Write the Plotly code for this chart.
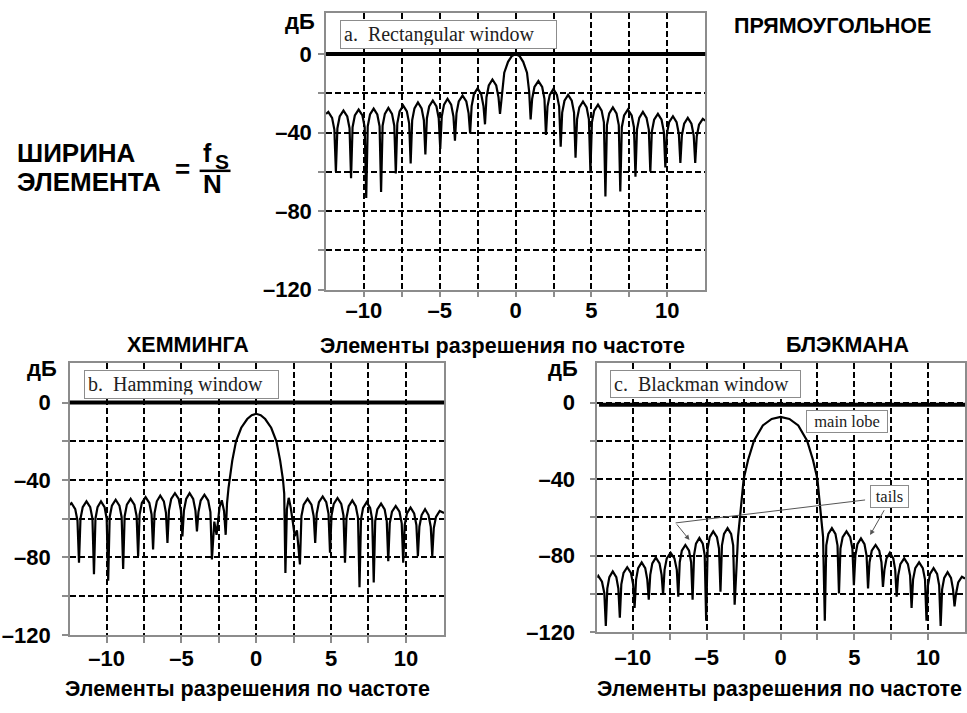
import plotly.graph_objects as go

# ---------------- data ----------------
# frequency (bins) and level (dB) of each window's spectrum
rect_x = [
    -12.5, -12.35, -12.1, -11.95,
    -11.85, -11.75, -11.6, -11.35, -11.1, -10.95,
    -10.85, -10.75, -10.6, -10.35, -10.1, -9.95,
    -9.85, -9.75, -9.6, -9.36, -9.12, -8.97,
    -8.87, -8.77, -8.62, -8.39, -8.15, -8.0,
    -7.9, -7.8, -7.65, -7.41, -7.17, -7.02,
    -6.92, -6.82, -6.67, -6.44, -6.2, -6.05,
    -5.95, -5.85, -5.7, -5.46, -5.22, -5.07,
    -4.97, -4.87, -4.72, -4.49, -4.25, -4.1,
    -4.0, -3.9, -3.75, -3.5, -3.25, -3.1,
    -3.0, -2.9, -2.75, -2.51, -2.27, -2.12,
    -2.02, -1.92, -1.77, -1.53, -1.28, -1.13,
    -1.03, -0.9, -0.75, -0.5, -0.25, 0.0, 0.25, 0.5, 0.75, 0.89,
    0.99, 1.09, 1.24, 1.5, 1.75, 1.9,
    2.0, 2.1, 2.25, 2.49, 2.72, 2.87,
    2.97, 3.07, 3.22, 3.46, 3.7, 3.85,
    3.95, 4.05, 4.2, 4.44, 4.68, 4.83,
    4.93, 5.03, 5.18, 5.43, 5.67, 5.82,
    5.92, 6.02, 6.17, 6.41, 6.65, 6.8,
    6.9, 7.0, 7.15, 7.4, 7.65, 7.8,
    7.9, 8.0, 8.15, 8.39, 8.63, 8.78,
    8.88, 8.98, 9.13, 9.38, 9.62, 9.77,
    9.87, 9.97, 10.12, 10.37, 10.61, 10.76,
    10.86, 10.96, 11.11, 11.35, 11.59, 11.74,
    11.84, 11.94, 12.09, 12.34, 12.5,
]
rect_db = [
    -30.5, -29.5, -32.5, -38.5,
    -60.0, -37.8, -31.8, -28.8, -31.8, -37.8,
    -63.3, -37.3, -31.3, -28.3, -31.3, -37.3,
    -73.3, -36.8, -30.8, -27.8, -30.8, -36.8,
    -70.3, -36.5, -30.5, -27.5, -30.5, -36.5,
    -60.8, -35.3, -29.3, -26.3, -29.3, -35.3,
    -55.8, -33.7, -27.7, -24.7, -27.7, -33.7,
    -51.2, -32.7, -26.7, -23.7, -26.7, -32.7,
    -48.3, -31.8, -25.8, -22.8, -25.8, -31.8,
    -44.2, -30.2, -24.2, -21.2, -24.2, -30.2,
    -40.5, -26.5, -20.5, -17.5, -20.5, -26.5,
    -35.8, -22.0, -16.0, -13.0, -16.0, -22.0,
    -30.5, -19.0, -9.5, -4.0, -1.0, 0.0, -1.0, -4.0, -9.5, -19.0,
    -33.3, -22.8, -16.8, -13.8, -16.8, -22.8,
    -41.2, -26.8, -20.8, -17.8, -20.8, -26.8,
    -47.2, -29.8, -23.8, -20.8, -23.8, -29.8,
    -52.8, -33.2, -27.2, -24.2, -27.2, -33.2,
    -60.0, -34.8, -28.8, -25.8, -28.8, -34.8,
    -72.5, -36.2, -30.2, -27.2, -30.2, -36.2,
    -70.0, -37.3, -31.3, -28.3, -31.3, -37.3,
    -62.5, -38.5, -32.5, -29.5, -32.5, -38.5,
    -60.0, -39.5, -33.5, -30.5, -33.5, -39.5,
    -57.8, -40.7, -34.7, -31.7, -34.7, -40.7,
    -55.5, -41.5, -35.5, -32.5, -35.5, -41.5,
    -55.5, -42.0, -36.0, -33.0, -34.0,
]

hamm_x = [
    -12.5, -12.34, -12.09, -11.94,
    -11.84, -11.74, -11.59, -11.34, -11.09, -10.94,
    -10.84, -10.74, -10.6, -10.37, -10.13, -9.99,
    -9.89, -9.79, -9.64, -9.39, -9.14, -8.99,
    -8.89, -8.79, -8.64, -8.39, -8.14, -7.99,
    -7.89, -7.79, -7.64, -7.39, -7.14, -6.99,
    -6.89, -6.79, -6.64, -6.41, -6.17, -6.03,
    -5.93, -5.83, -5.68, -5.43, -5.18, -5.03,
    -4.93, -4.83, -4.68, -4.45, -4.21, -4.06,
    -3.96, -3.86, -3.71, -3.46, -3.21, -3.06,
    -2.96, -2.8, -2.65, -2.45, -2.3, -2.15,
    -2.04, -1.95, -1.85, -1.78, -1.6, -1.35, -1.0, -0.6, -0.3, 0.0,
    0.3, 0.6, 1.0, 1.35, 1.6, 1.79, 1.87,
    1.95, 2.05, 2.17, 2.3, 2.45, 2.57, 2.72,
    2.92, 3.02, 3.17, 3.43, 3.69, 3.84,
    3.94, 4.04, 4.19, 4.44, 4.68, 4.83,
    4.93, 5.03, 5.18, 5.43, 5.68, 5.83,
    5.93, 6.03, 6.18, 6.42, 6.65, 6.8,
    6.9, 7.0, 7.14, 7.38, 7.61, 7.75,
    7.85, 7.95, 8.09, 8.34, 8.58, 8.72,
    8.82, 8.92, 9.07, 9.32, 9.57, 9.72,
    9.82, 9.92, 10.07, 10.31, 10.55, 10.7,
    10.8, 10.9, 11.05, 11.28, 11.51, 11.66,
    11.76, 11.86, 12.01, 12.26, 12.55,
]
hamm_db = [
    -53.0, -52.0, -55.0, -61.0,
    -82.7, -60.0, -54.0, -51.0, -54.0, -60.0,
    -88.6, -60.0, -54.0, -51.0, -54.0, -60.0,
    -92.0, -59.2, -53.2, -50.2, -53.2, -59.2,
    -86.0, -58.7, -52.7, -49.7, -52.7, -58.7,
    -79.3, -57.8, -51.8, -48.8, -51.8, -57.8,
    -75.9, -57.0, -51.0, -48.0, -51.0, -57.0,
    -72.5, -55.8, -49.8, -46.8, -49.8, -55.8,
    -69.2, -55.8, -49.8, -46.8, -49.8, -55.8,
    -66.6, -56.6, -50.6, -47.6, -50.6, -56.6,
    -81.0, -61.5, -68.3, -54.0, -50.5, -56.0,
    -68.3, -52.0, -44.0, -40.0, -30.0, -20.0, -13.0, -8.5, -6.5, -5.8,
    -6.5, -8.5, -13.0, -20.0, -30.0, -40.0, -47.0,
    -88.0, -55.0, -49.2, -54.0, -62.0, -69.0, -66.0,
    -83.6, -58.7, -52.7, -49.7, -52.7, -58.7,
    -72.5, -57.5, -51.5, -48.5, -51.5, -57.5,
    -77.6, -58.3, -52.3, -49.3, -52.3, -58.3,
    -82.7, -59.5, -53.5, -50.5, -53.5, -59.5,
    -95.4, -60.4, -54.4, -51.4, -54.4, -60.4,
    -92.9, -61.2, -55.2, -52.2, -55.2, -61.2,
    -81.9, -62.4, -56.4, -53.4, -56.4, -62.4,
    -82.7, -63.2, -57.2, -54.2, -57.2, -63.2,
    -79.3, -64.1, -58.1, -55.1, -58.1, -64.1,
    -79.3, -65.0, -59.0, -56.0, -57.0,
]

black_x = [
    -12.42, -12.35, -12.1, -11.94,
    -11.84, -11.74, -11.6, -11.37, -11.13, -10.99,
    -10.89, -10.79, -10.64, -10.39, -10.14, -9.99,
    -9.89, -9.79, -9.65, -9.41, -9.17, -9.03,
    -8.93, -8.83, -8.69, -8.45, -8.2, -8.06,
    -7.96, -7.86, -7.71, -7.45, -7.19, -7.03,
    -6.93, -6.83, -6.69, -6.45, -6.2, -6.06,
    -5.96, -5.86, -5.73, -5.5, -5.27, -5.14,
    -5.04, -4.94, -4.8, -4.56, -4.31, -4.17,
    -4.07, -3.97, -3.83, -3.59, -3.35, -3.21,
    -3.11, -3.0, -2.88, -2.75, -2.5, -2.2, -1.8, -1.2, -0.6, 0.0,
    0.6, 1.2, 1.8, 2.2, 2.5, 2.75, 2.88,
    3.0, 3.1, 3.24, 3.48, 3.72, 3.86,
    3.96, 4.06, 4.21, 4.47, 4.72, 4.87,
    4.97, 5.07, 5.21, 5.45, 5.69, 5.83,
    5.93, 6.03, 6.18, 6.44, 6.69, 6.84,
    6.94, 7.04, 7.18, 7.41, 7.64, 7.77,
    7.87, 7.97, 8.12, 8.38, 8.63, 8.78,
    8.88, 8.98, 9.13, 9.39, 9.64, 9.79,
    9.89, 9.99, 10.13, 10.37, 10.61, 10.75,
    10.85, 10.95, 11.09, 11.32, 11.55, 11.69,
    11.79, 11.89, 12.04, 12.29, 12.5,
]
black_db = [
    -91.5, -90.6, -93.6, -99.6,
    -116.7, -97.2, -91.2, -88.2, -91.2, -97.2,
    -112.4, -95.0, -89.0, -86.0, -89.0, -95.0,
    -107.3, -92.5, -86.5, -83.5, -86.5, -92.5,
    -103.0, -90.0, -84.0, -81.0, -84.0, -90.0,
    -100.5, -87.4, -81.4, -78.4, -81.4, -87.4,
    -101.4, -83.4, -77.4, -74.4, -77.4, -83.4,
    -103.0, -79.7, -73.7, -70.7, -73.7, -79.7,
    -114.0, -76.3, -70.3, -67.3, -70.3, -76.3,
    -98.8, -74.6, -68.6, -65.6, -68.6, -74.6,
    -105.6, -85.0, -70.0, -60.0, -40.0, -30.0, -20.0, -12.0, -8.6, -7.5,
    -8.6, -12.0, -20.0, -30.0, -40.0, -60.0, -70.0,
    -114.0, -74.6, -68.6, -65.6, -68.6, -74.6,
    -99.7, -76.3, -70.3, -67.3, -70.3, -76.3,
    -95.4, -80.0, -74.0, -71.0, -74.0, -80.0,
    -97.1, -83.4, -77.4, -74.4, -77.4, -83.4,
    -96.3, -87.4, -81.4, -78.4, -81.4, -87.4,
    -101.4, -90.4, -84.4, -81.4, -84.4, -90.4,
    -107.3, -92.5, -86.5, -83.5, -86.5, -92.5,
    -114.0, -95.5, -89.5, -86.5, -89.5, -95.5,
    -116.7, -97.6, -91.6, -88.6, -91.6, -97.6,
    -106.5, -100.0, -94.0, -91.0, -92.0,
]

x_tick_vals = [-10, -5, 0, 5, 10]
x_tick_text = ["–10", "–5", "0", "5", "10"]
x_minor_vals = [-7.5, -2.5, 2.5, 7.5]
y_tick_vals = [0, -40, -80, -120]
y_tick_text = ["0", "–40", "–80", "–120"]
y_minor_vals = [-20, -60, -100]

panel_labels = ["a.\u00a0 Rectangular window", "b.\u00a0 Hamming window", "c.\u00a0 Blackman window"]
panel_names = ["ПРЯМОУГОЛЬНОЕ", "ХЕММИНГА", "БЛЭКМАНА"]
x_title = "Элементы разрешения по частоте"
y_unit = "дБ"

# ---------------- styling ----------------
W, H = 967, 713
SANS = "Liberation Sans, Arial, sans-serif"
SERIF = "Liberation Serif, Times New Roman, serif"
TICKFONT = dict(family=SANS, size=22, color="black", weight="bold")
AXC = "#8c8c8c"


def px(x):
    return x / W


def py(y):
    return 1 - y / H


GRID = dict(showgrid=True, gridcolor="black", gridwidth=1.7, griddash="6px,3px")
LINE = dict(showline=True, linecolor=AXC, linewidth=1.5, mirror=True, ticks="outside",
            ticklen=6, tickwidth=1.5, tickcolor=AXC, zeroline=False, fixedrange=True)


def make_x(domain, rng, anchor, standoff):
    return dict(domain=domain, range=rng, anchor=anchor, tickmode="array",
                tickvals=x_tick_vals, ticktext=x_tick_text, tickfont=TICKFONT,
                ticklabelstandoff=standoff,
                minor=dict(tickmode="array", tickvals=x_minor_vals, ticks="outside",
                           ticklen=6, tickwidth=1.5, tickcolor=AXC, **GRID),
                **GRID, **LINE)


def make_y(domain, rng, anchor, standoff):
    return dict(domain=domain, range=rng, anchor=anchor, tickmode="array",
                tickvals=y_tick_vals, ticktext=y_tick_text, tickfont=TICKFONT,
                ticklabelstandoff=standoff,
                minor=dict(tickmode="array", tickvals=y_minor_vals, ticks="outside",
                           ticklen=6, tickwidth=1.5, tickcolor=AXC, **GRID),
                **GRID, **LINE)


fig = go.Figure()
for xs, ys, xa, ya in [(rect_x, rect_db, "x", "y"),
                       (hamm_x, hamm_db, "x2", "y2"),
                       (black_x, black_db, "x3", "y3")]:
    fig.add_trace(go.Scatter(x=xs, y=ys, xaxis=xa, yaxis=ya, mode="lines",
                             line=dict(color="black", width=2.2), hoverinfo="skip"))

fig.update_layout(
    width=W, height=H, margin=dict(l=0, r=0, t=0, b=0),
    paper_bgcolor="white", plot_bgcolor="white", showlegend=False,
    xaxis=make_x([px(326.7), px(706.7)], [-12.5, 12.5], "y", -6),
    yaxis=make_y([py(295), py(13.3)], [-120, 20.85], "x", 2),
    xaxis2=make_x([px(70), px(445)], [-12.45, 12.55], "y2", -3),
    yaxis2=make_y([py(646.7), py(370)], [-120, 20.3], "x2", 7),
    xaxis3=make_x([px(598.5), 1.0], [-12.42, 12.5], "y3", -1),
    yaxis3=make_y([py(644), py(370)], [-120, 20.5], "x3", 10),
)

shapes = [
    dict(type="line", xref="x domain", yref="y", x0=0, x1=1, y0=0, y1=0,
         line=dict(color="black", width=4)),
    dict(type="line", xref="x2 domain", yref="y2", x0=0, x1=1, y0=0, y1=0,
         line=dict(color="black", width=4)),
    dict(type="line", xref="x3", yref="y3", x0=-12.3, x1=12.5, y0=-1.2, y1=-1.2,
         line=dict(color="black", width=4)),
    # tails pointer line
    dict(type="line", xref="x3", yref="y3", x0=5.73, y0=-50.9, x1=-7.11, y1=-62.9,
         line=dict(color="#555555", width=1)),
    # fraction bar
    dict(type="line", xref="paper", yref="paper", x0=px(200), x1=px(231), y0=py(174), y1=py(174),
         line=dict(color="black", width=2.5)),
]
fig.update_layout(shapes=shapes)

ann = []


def text(t, x, y, size=21.5, xanchor="center", yanchor="middle", family=SANS, weight="bold"):
    ann.append(dict(text=t, x=px(x), y=py(y), xref="paper", yref="paper", showarrow=False,
                    xanchor=xanchor, yanchor=yanchor,
                    font=dict(family=family, size=size, color="black", weight=weight)))


text(panel_names[0], 834, 26)
text(panel_names[1], 188, 351)
text(panel_names[2], 849, 351)
text(x_title, 504, 352)
text(x_title, 248, 702)
text(x_title, 781, 702)
text(y_unit, 318, 22, size=22, xanchor="right")
text(y_unit, 59, 375, size=22, xanchor="right")
text(y_unit, 581, 375, size=22, xanchor="right")
# formula
text("ШИРИНА", 15, 156, size=26, xanchor="left")
text("ЭЛЕМЕНТА", 15, 185, size=26, xanchor="left")
text("=", 183, 172, size=26)
text("f", 208, 156, size=25)
text("S", 222, 165, size=21)
text("N", 213, 187, size=26)


def boxed(t, x0, y0, w, h, size):
    ann.append(dict(text=t, x=px(x0), y=py(y0), xref="paper", yref="paper", showarrow=False,
                    xanchor="left", yanchor="top", align="left", valign="middle",
                    width=w - 8, height=h - 8, borderpad=3, borderwidth=1,
                    bordercolor="#8c8c8c", bgcolor="white",
                    font=dict(family=SERIF, size=size, color="#222222")))


boxed(panel_labels[0], 340.7, 20.7, 217, 29, 20)
boxed(panel_labels[1], 84, 376.7, 195, 28.5, 20)
boxed(panel_labels[2], 611.7, 376.7, 191, 28, 20)


def small_box(t, xc, yc, size, w):
    ann.append(dict(text=t, x=px(xc), y=py(yc), xref="paper", yref="paper", showarrow=False,
                    xanchor="center", yanchor="middle", borderpad=1, borderwidth=1,
                    width=w, bordercolor="#8c8c8c", bgcolor="white",
                    font=dict(family=SERIF, size=size, color="#222222")))


small_box("main lobe", 849, 429, 16.5, 78)
small_box("tails", 891, 506, 16.5, 35)

# arrows
ann.append(dict(text="", x=-6.17, y=-71.8, ax=-7.11, ay=-62.9, xref="x3", yref="y3",
                axref="x3", ayref="y3", showarrow=True, arrowhead=2, arrowsize=1,
                arrowwidth=1, arrowcolor="#555555"))
ann.append(dict(text="", x=6.07, y=-69.2, ax=7.08, ay=-55.5, xref="x3", yref="y3",
                axref="x3", ayref="y3", showarrow=True, arrowhead=2, arrowsize=1,
                arrowwidth=1, arrowcolor="#555555"))

fig.update_layout(annotations=ann)

page_css = ("var s=document.createElement('style');"
            "s.innerHTML='html,body{margin:0;padding:0;overflow:hidden;}';"
            "document.head.appendChild(s);")
fig.write_html("out.html", config={"displayModeBar": False}, post_script=page_css)
